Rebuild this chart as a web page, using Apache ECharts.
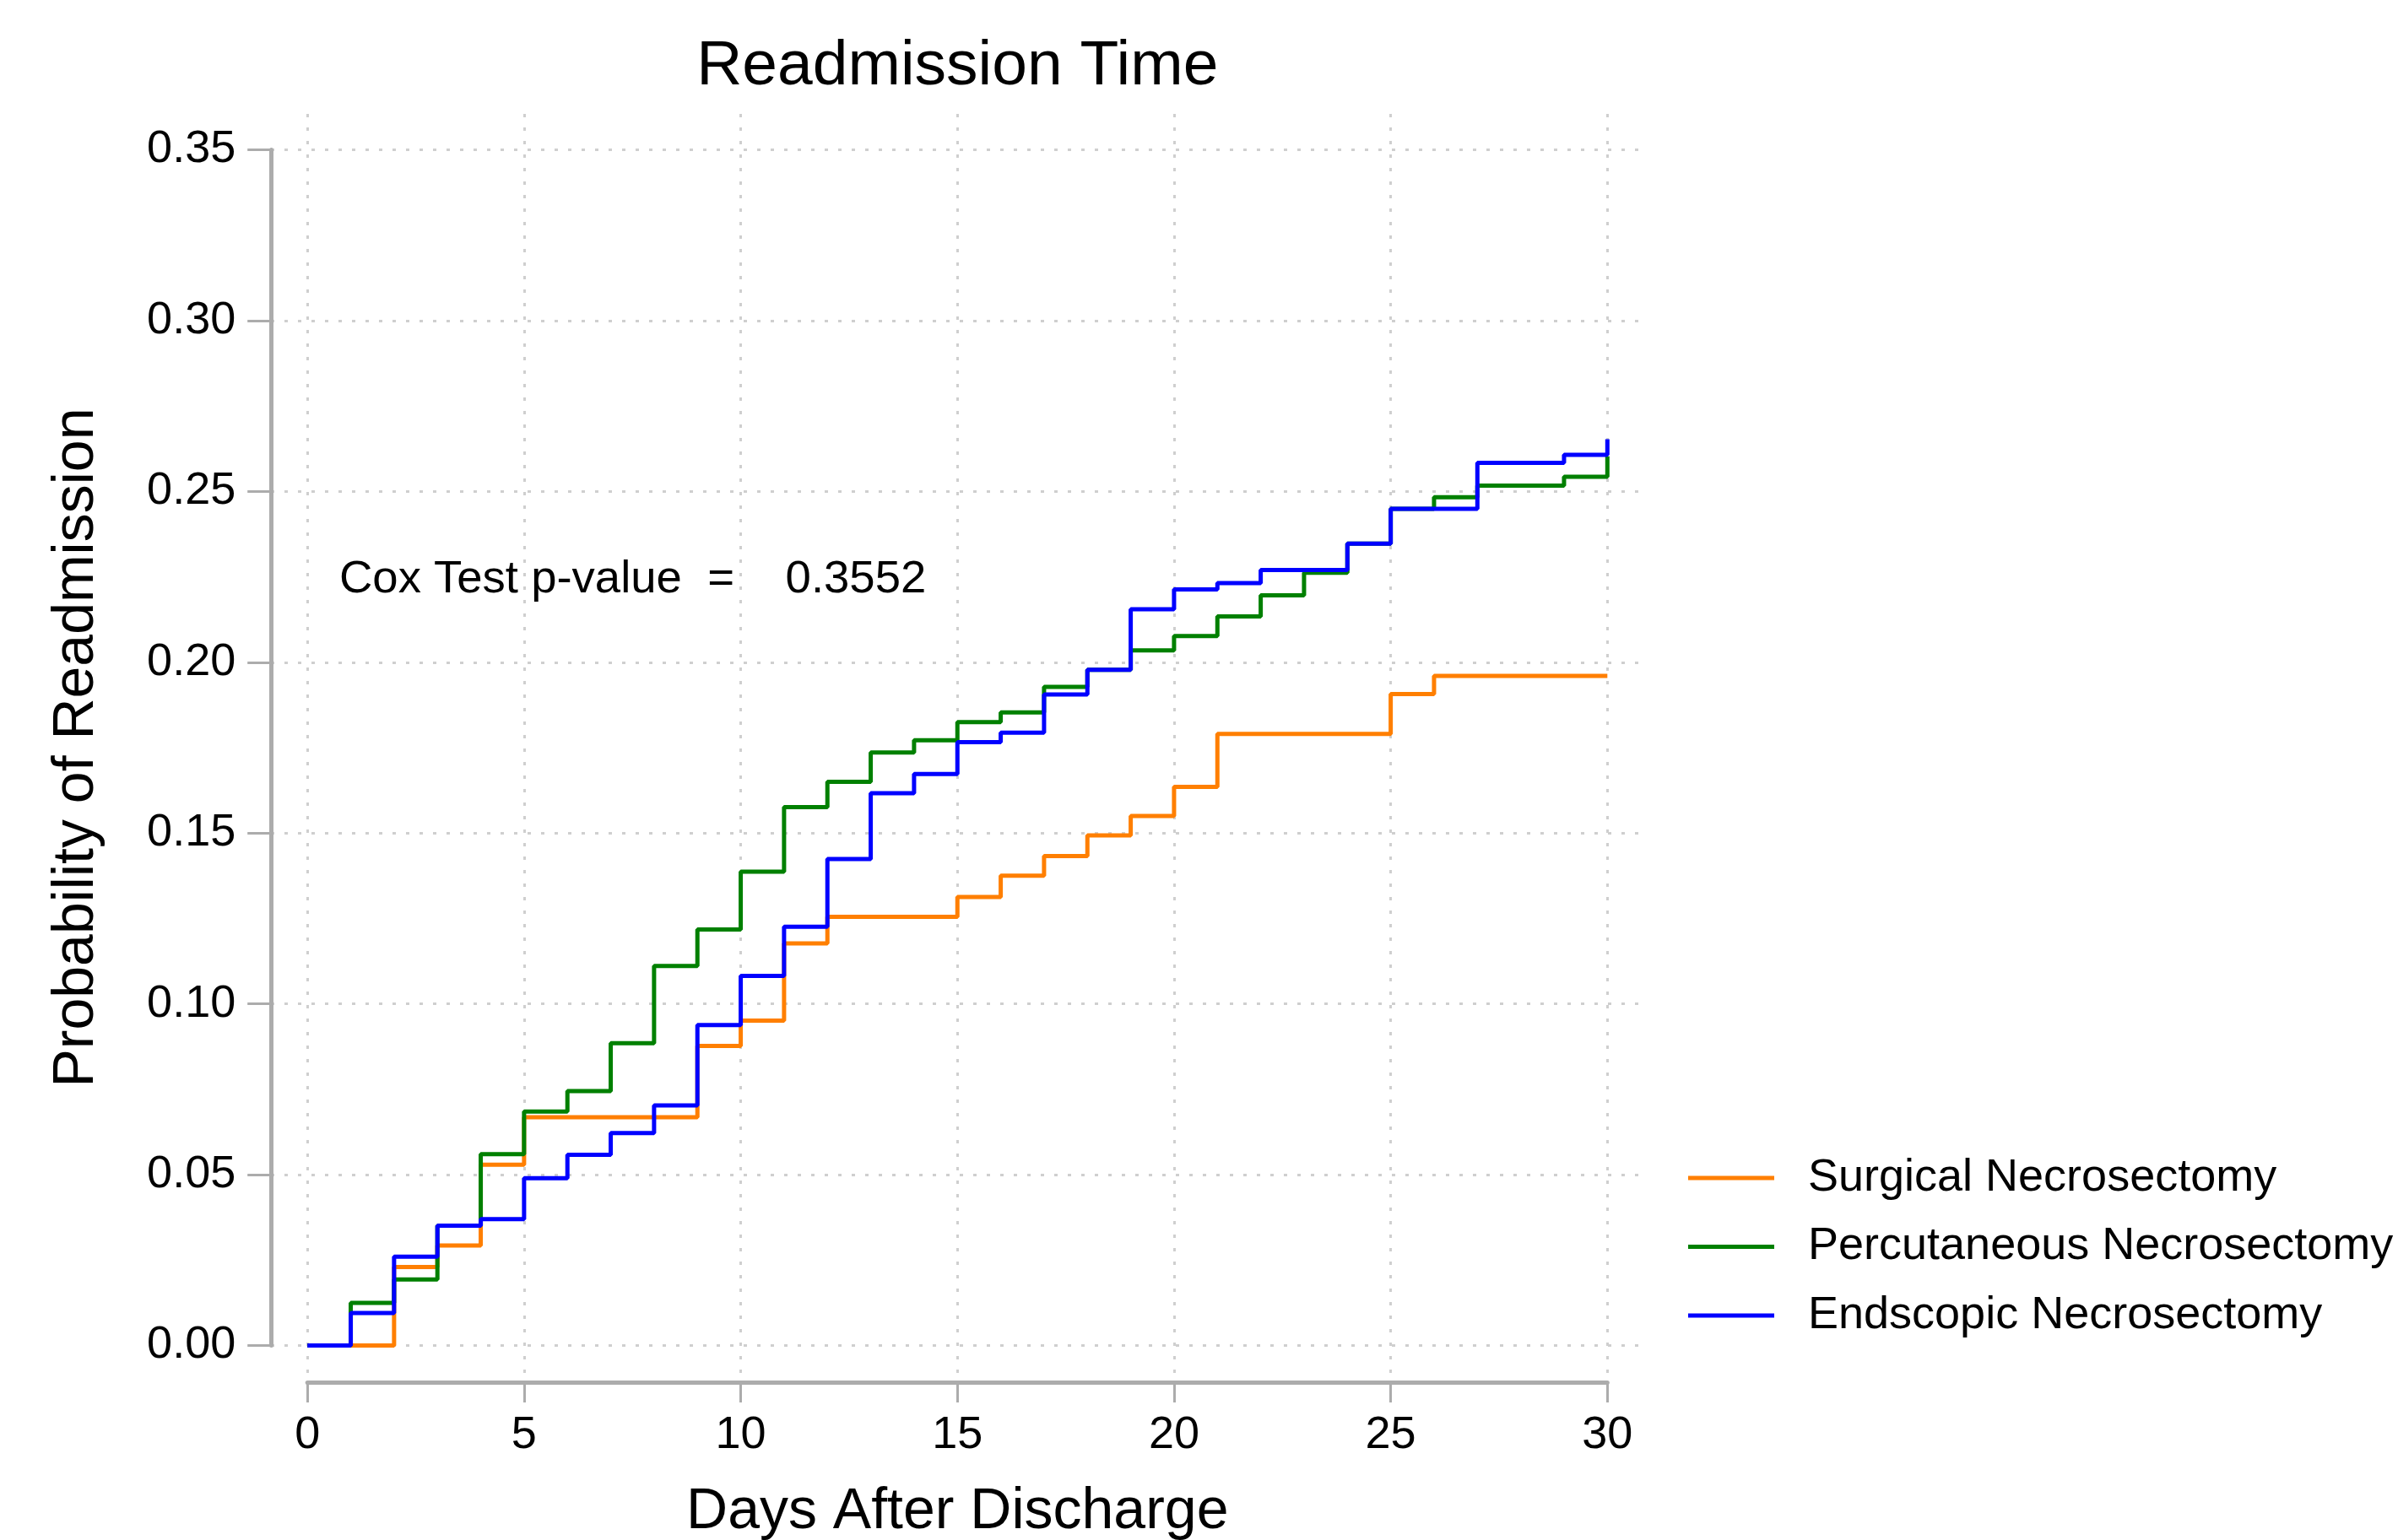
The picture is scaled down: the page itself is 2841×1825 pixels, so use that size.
<!DOCTYPE html>
<html>
<head>
<meta charset="utf-8">
<script src="https://cdn.jsdelivr.net/npm/echarts@6/dist/echarts.min.js"></script>
<style>
html,body{margin:0;padding:0;background:#ffffff;}
#chart{width:2841px;height:1825px;}
</style>
</head>
<body>
<div id="chart"></div>
<script>
// ---- data ----
const days = [0,1,2,3,4,5,6,7,8,9,10,11,12,13,14,15,16,17,18,19,20,21,22,23,24,25,26,27,28,29,30];
const surgical = [0,0,0.0230,0.0293,0.0529,0.0668,0.0668,0.0668,0.0668,0.0877,0.0951,0.1177,0.1255,0.1255,0.1255,0.1313,0.1375,0.1433,0.1493,0.1550,0.1635,0.1790,0.1790,0.1790,0.1790,0.1907,0.1960,0.1960,0.1960,0.1960,0.1960];
const percutaneous = [0,0.0125,0.0193,0.0351,0.0560,0.0685,0.0745,0.0885,0.1111,0.1218,0.1387,0.1576,0.1650,0.1736,0.1772,0.1825,0.1853,0.1928,0.1978,0.2035,0.2077,0.2134,0.2196,0.2262,0.2347,0.2449,0.2483,0.2517,0.2517,0.2543,0.2603];
const endoscopic = [0,0.0095,0.0260,0.0351,0.0370,0.0490,0.0558,0.0622,0.0703,0.0938,0.1082,0.1226,0.1424,0.1617,0.1673,0.1766,0.1794,0.1906,0.1978,0.2155,0.2213,0.2232,0.2270,0.2270,0.2347,0.2449,0.2449,0.2584,0.2584,0.2607,0.2653];
const seriesNames = ['Surgical Necrosectomy','Percutaneous Necrosectomy','Endscopic Necrosectomy'];
const seriesColors = ['#ff7f00','#008000','#0000ff'];
const chartTitle = 'Readmission Time';
const xTitle = 'Days After Discharge';
const yTitle = 'Probability of Readmission';
const coxText = 'Cox Test p-value  =    0.3552';

const FONT = '"Liberation Sans", Arial, Helvetica, sans-serif';
const AXIS_COLOR = '#acacac';
const GRID_COLOR = '#cfcfcf';

function pairs(vals){ return days.map((d,i)=>[d, vals[i]]); }

const chart = echarts.init(document.getElementById('chart'), null, {renderer:'canvas'});

const lineSeries = [surgical, percutaneous, endoscopic].map((vals, k) => ({
  name: seriesNames[k],
  type: 'line',
  xAxisIndex: 0,
  yAxisIndex: 0,
  step: 'end',
  symbol: 'none',
  showSymbol: false,
  clip: false,
  data: pairs(vals),
  lineStyle: {color: seriesColors[k], width: 5},
  itemStyle: {color: seriesColors[k]},
  z: 10 + k
}));

const option = {
  backgroundColor: '#ffffff',
  animation: false,
  textStyle: {fontFamily: FONT},
  title: {
    text: chartTitle,
    left: 1134.25,
    top: 42,
    textAlign: 'center',
    padding: 0,
    textStyle: {fontSize: 75, lineHeight: 75, fontWeight: 'normal', color: '#000', fontFamily: FONT}
  },
  legend: {
    orient: 'vertical',
    left: 2000,
    top: 1369,
    padding: 0,
    icon: 'rect',
    itemWidth: 102,
    itemHeight: 5,
    itemGap: 27.5,
    data: seriesNames,
    textStyle: {fontSize: 54, lineHeight: 54, color: '#000', fontFamily: FONT, padding: [0,0,0,35]}
  },
  grid: [
    {left: 364.2, top: 177.6, width: 1540.1, height: 1416.9, containLabel: false, outerBoundsMode: 'none'},
    {left: 321, top: 135, width: 1632, height: 1503, containLabel: false, outerBoundsMode: 'none'}
  ],
  xAxis: [
    {
      gridIndex: 0, type: 'value', min: 0, max: 30, interval: 5,
      position: 'bottom', offset: 43.5,
      axisLine: {show: true, onZero: false, lineStyle: {color: AXIS_COLOR, width: 5}},
      axisTick: {show: true, length: 24, lineStyle: {color: AXIS_COLOR, width: 3}},
      axisLabel: {fontSize: 54, color: '#000', margin: 36, fontFamily: FONT},
      splitLine: {show: false},
      name: xTitle, nameLocation: 'middle', nameGap: 120,
      nameTextStyle: {fontSize: 68, color: '#000', fontFamily: FONT}
    },
    {
      gridIndex: 1, type: 'value', min: -0.841, max: 30.949, splitNumber: 6,
      axisLine: {show: false}, axisTick: {show: false}, axisLabel: {show: false},
      splitLine: {show: true, showMinLine: false, showMaxLine: false,
        lineStyle: {color: GRID_COLOR, width: 3, type: [4, 12]}}
    }
  ],
  yAxis: [
    {
      gridIndex: 0, type: 'value', min: 0, max: 0.35, interval: 0.05,
      position: 'left', offset: 43,
      axisLine: {show: true, onZero: false, lineStyle: {color: AXIS_COLOR, width: 5}},
      axisTick: {show: true, length: 28, lineStyle: {color: AXIS_COLOR, width: 3}},
      axisLabel: {fontSize: 54, color: '#000', margin: 42, fontFamily: FONT,
        formatter: v => v.toFixed(2)},
      splitLine: {show: false},
      name: yTitle, nameLocation: 'middle', nameGap: 196, nameRotate: 90,
      nameTextStyle: {fontSize: 68, color: '#000', fontFamily: FONT}
    },
    {
      gridIndex: 1, type: 'value', min: -0.01075, max: 0.36052, splitNumber: 7,
      axisLine: {show: false}, axisTick: {show: false}, axisLabel: {show: false},
      splitLine: {show: true, showMinLine: false, showMaxLine: false,
        lineStyle: {color: GRID_COLOR, width: 3, type: [4, 12]}}
    }
  ],
  graphic: [
    {
      type: 'text', x: 402, y: 687, z: 100,
      style: {text: coxText, fontSize: 54.5, fontFamily: FONT, fill: '#000', verticalAlign: 'middle', align: 'left'}
    }
  ],
  series: lineSeries
};

chart.setOption(option);
</script>
</body>
</html>
